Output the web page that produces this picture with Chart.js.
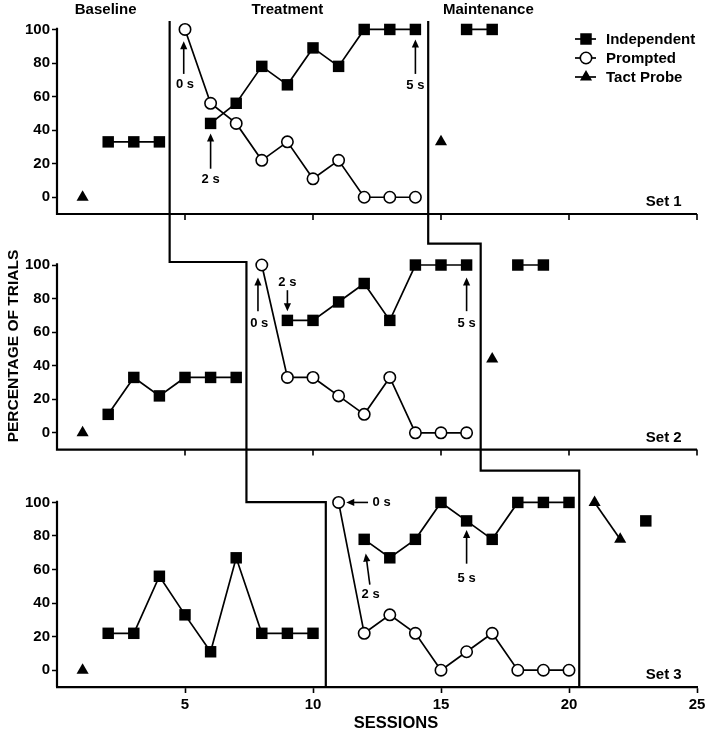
<!DOCTYPE html>
<html>
<head>
<meta charset="utf-8">
<script src="https://cdn.jsdelivr.net/npm/chart.js@4.4.1/dist/chart.umd.min.js"></script>
<style>
  html, body { margin: 0; padding: 0; background: #fff; }
  #wrap { position: relative; width: 709px; height: 732px; }
</style>
</head>
<body>
<div id="wrap"><canvas id="chart"></canvas></div>
<script>
const sessions = [1, 2, 3, 4, 5, 6, 7, 8, 9, 10, 11, 12, 13, 14, 15, 16, 17, 18, 19, 20, 21, 22, 23]

// Set 1
const set1Independent = [null, 33, 33, 33, null, 44, 56, 78, 67, 89, 78, 100, 100, 100, null, 100, 100, null, null, null, null, null, null]
const set1Prompted = [null, null, null, null, 100, 56, 44, 22, 33, 11, 22, 0, 0, 0, null, null, null, null, null, null, null, null, null]
const set1Tact = [0, null, null, null, null, null, null, null, null, null, null, null, null, null, 33, null, null, null, null, null, null, null, null]

// Set 2
const set2Independent = [null, 11, 33, 22, 33, 33, 33, null, 67, 67, 78, 89, 67, 100, 100, 100, null, 100, 100, null, null, null, null]
const set2Prompted = [null, null, null, null, null, null, null, 100, 33, 33, 22, 11, 33, 0, 0, 0, null, null, null, null, null, null, null]
const set2Tact = [0, null, null, null, null, null, null, null, null, null, null, null, null, null, null, null, 44, null, null, null, null, null, null]

// Set 3
const set3Independent = [null, 22, 22, 56, 33, 11, 67, 22, 22, 22, null, 78, 67, 78, 100, 89, 78, 100, 100, 100, null, null, 89]
const set3Prompted = [null, null, null, null, null, null, null, null, null, null, 100, 22, 33, 22, 0, 11, 22, 0, 0, 0, null, null, null]
const set3Tact = [0, null, null, null, null, null, null, null, null, null, null, null, null, null, null, null, null, null, null, null, 100, 78, null]

const yTicks = [0, 20, 40, 60, 80, 100]
const xTicks = [5, 10, 15, 20, 25]
const phaseNames = ["Baseline", "Treatment", "Maintenance"]
const setNames = ["Set 1", "Set 2", "Set 3"]

// phase change lines (session position in Set 1, 2, 3) and step heights
const baselineEnd = [4.4, 7.4, 10.5]
const treatmentEnd = [14.5, 16.55, 20.4]
const baselineSteps = [101.8, 100.2]
const treatmentSteps = [112.7, 119]

// prompt delay notes: [panel, label, tail, head, text position] in session / %
const delayNotes = [
  [0, "0 s", [4.95, 73.5], [4.95, 93], [5, 67]],
  [0, "2 s", [6, 17], [6, 38], [6, 10.5]],
  [0, "5 s", [14, 73.5], [14, 94], [14, 66.5]],
  [1, "0 s", [7.85, 72.5], [7.85, 92.5], [7.9, 65]],
  [1, "2 s", [9, 85], [9, 72.5], [9, 89.5]],
  [1, "5 s", [16, 72.5], [16, 92.5], [16, 65.3]],
  [2, "0 s", [12.15, 100], [11.3, 100], [12.68, 100]],
  [2, "2 s", [12.22, 51], [12.06, 69.5], [12.25, 45]],
  [2, "5 s", [16, 63.5], [16, 83.5], [16, 54.6]],
]

const FONT = '"Liberation Sans", Arial, sans-serif'

const styles = {
  independent: { pointStyle: "rect", pointRadius: 8.1, pointHoverRadius: 8.1, pointBackgroundColor: "#000", pointBorderColor: "#000", pointBorderWidth: 0 },
  prompted: { pointStyle: "circle", pointRadius: 5.7, pointHoverRadius: 5.7, pointBackgroundColor: "#fff", pointBorderColor: "#000", pointBorderWidth: 1.6 },
  tact: { pointStyle: "triangle", pointRadius: 7, pointHoverRadius: 7, pointBackgroundColor: "#000", pointBorderColor: "#000", pointBorderWidth: 0 },
}

const series = (label, values, axis, kind) => ({
  label: label,
  data: values.map((v, i) => ({ x: sessions[i], y: v })),
  yAxisID: axis,
  borderColor: "#000",
  borderWidth: 1.7,
  showLine: true,
  spanGaps: false,
  clip: false,
  tension: 0,
  ...styles[kind],
})

const yAxis = (min, max) => ({
  type: "linear",
  position: "left",
  stack: "sets",
  stackWeight: max - min,
  min: min,
  max: max,
  border: { display: false },
  grid: { drawOnChartArea: false, tickLength: 5, tickWidth: 1.5, tickColor: "#000" },
  ticks: { color: "#000", padding: 2, font: { family: FONT, size: 15, weight: "bold" } },
  afterBuildTicks: (s) => { s.ticks = yTicks.map((v) => ({ value: v })) },
  afterFit: (s) => { s.width = 57 },
})

const drawMarker = (ctx, kind, px, py) => {
  ctx.beginPath()
  if (kind === "independent") {
    ctx.rect(px - 5.75, py - 5.75, 11.5, 11.5)
    ctx.fill()
  } else if (kind === "prompted") {
    ctx.lineWidth = 1.6
    ctx.arc(px, py, 5.7, 0, Math.PI * 2)
    ctx.fillStyle = "#fff"
    ctx.fill()
    ctx.stroke()
    ctx.fillStyle = "#000"
  } else {
    const r = 7
    ctx.moveTo(px, py - r)
    ctx.lineTo(px + r * 0.866, py + r * 0.5)
    ctx.lineTo(px - r * 0.866, py + r * 0.5)
    ctx.closePath()
    ctx.fill()
  }
}

const arrow = (ctx, x1, y1, x2, y2) => {
  const a = Math.atan2(y2 - y1, x2 - x1)
  const len = 8
  const half = 3.6
  ctx.beginPath()
  ctx.moveTo(x1, y1)
  ctx.lineTo(x2 - Math.cos(a) * len * 0.8, y2 - Math.sin(a) * len * 0.8)
  ctx.stroke()
  ctx.beginPath()
  ctx.moveTo(x2, y2)
  ctx.lineTo(x2 - Math.cos(a) * len + Math.sin(a) * half, y2 - Math.sin(a) * len - Math.cos(a) * half)
  ctx.lineTo(x2 - Math.cos(a) * len - Math.sin(a) * half, y2 - Math.sin(a) * len + Math.cos(a) * half)
  ctx.closePath()
  ctx.fill()
}

const overlay = {
  id: "overlay",
  afterDraw(chart) {
    const { ctx, chartArea, scales } = chart
    const x = scales.x
    const panels = [scales.y1, scales.y2, scales.y3]
    ctx.save()
    ctx.strokeStyle = "#000"
    ctx.fillStyle = "#000"

    // axis lines of each set
    panels.forEach((y, i) => {
      const bottom = y.getPixelForValue(y.min)
      ctx.lineWidth = 2.2
      ctx.beginPath()
      ctx.moveTo(chartArea.left, y.getPixelForValue(101))
      ctx.lineTo(chartArea.left, bottom)
      if (i < 2) ctx.lineTo(chartArea.right, bottom)
      ctx.stroke()
      if (i < 2) {
        ctx.lineWidth = 1.6
        ctx.beginPath()
        xTicks.forEach((t) => {
          const px = x.getPixelForValue(t)
          ctx.moveTo(px, bottom)
          ctx.lineTo(px, bottom + 6)
        })
        ctx.stroke()
      }
    })

    // phase change lines
    const phaseLine = (xs, steps) => {
      const pts = [
        [xs[0], panels[0].getPixelForValue(105)],
        [xs[0], panels[1].getPixelForValue(steps[0])],
        [xs[1], panels[1].getPixelForValue(steps[0])],
        [xs[1], panels[2].getPixelForValue(steps[1])],
        [xs[2], panels[2].getPixelForValue(steps[1])],
        [xs[2], panels[2].getPixelForValue(panels[2].min)],
      ]
      ctx.lineWidth = 2.2
      ctx.beginPath()
      pts.forEach(([s, py], i) => {
        const px = x.getPixelForValue(s)
        if (i === 0) ctx.moveTo(px, py)
        else ctx.lineTo(px, py)
      })
      ctx.stroke()
    }
    phaseLine(baselineEnd, baselineSteps)
    phaseLine(treatmentEnd, treatmentSteps)

    // phase names
    ctx.font = "bold 15px " + FONT
    ctx.textAlign = "center"
    ctx.textBaseline = "middle"
    const phaseAt = [1.9, 9, 16.85]
    phaseNames.forEach((name, i) => {
      ctx.fillText(name, x.getPixelForValue(phaseAt[i]), chartArea.top - 1)
    })

    // set names
    ctx.textAlign = "right"
    setNames.forEach((name, i) => {
      ctx.fillText(name, x.getPixelForValue(24.4), panels[i].getPixelForValue(-3))
    })

    // prompt delay notes
    ctx.lineWidth = 1.6
    ctx.font = "bold 13px " + FONT
    ctx.textAlign = "center"
    delayNotes.forEach(([p, label, tail, head, at]) => {
      const y = panels[p]
      arrow(ctx, x.getPixelForValue(tail[0]), y.getPixelForValue(tail[1]), x.getPixelForValue(head[0]), y.getPixelForValue(head[1]))
      ctx.fillText(label, x.getPixelForValue(at[0]), y.getPixelForValue(at[1]))
    })

    // legend
    const legendItems = [["Independent", "independent"], ["Prompted", "prompted"], ["Tact Probe", "tact"]]
    ctx.font = "bold 15px " + FONT
    ctx.textAlign = "left"
    legendItems.forEach(([name, kind], i) => {
      const ly = chartArea.top + 28 + i * 19
      const lx = chartArea.right - 111
      ctx.lineWidth = 1.7
      ctx.beginPath()
      ctx.moveTo(lx - 11, ly)
      ctx.lineTo(lx + 10, ly)
      ctx.stroke()
      drawMarker(ctx, kind, lx, ly)
      ctx.fillText(name, lx + 20, ly + 1)
    })

    // axis titles
    ctx.font = "bold 16.5px " + FONT
    ctx.textAlign = "center"
    ctx.fillText("SESSIONS", (chartArea.left + chartArea.right) / 2 + 19, chart.height - 9)
    ctx.save()
    ctx.translate(14, (chartArea.top + chartArea.bottom) / 2 - 3)
    ctx.rotate(-Math.PI / 2)
    ctx.font = "bold 15.5px " + FONT
    ctx.fillText("PERCENTAGE OF TRIALS", 0, 0)
    ctx.restore()

    ctx.restore()
  },
}

new Chart(document.getElementById("chart"), {
  type: "line",
  data: {
    datasets: [
      series("Independent", set1Independent, "y1", "independent"),
      series("Prompted", set1Prompted, "y1", "prompted"),
      series("Tact Probe", set1Tact, "y1", "tact"),
      series("Independent", set2Independent, "y2", "independent"),
      series("Prompted", set2Prompted, "y2", "prompted"),
      series("Tact Probe", set2Tact, "y2", "tact"),
      series("Independent", set3Independent, "y3", "independent"),
      series("Prompted", set3Prompted, "y3", "prompted"),
      series("Tact Probe", set3Tact, "y3", "tact"),
    ],
  },
  options: {
    responsive: true,
    maintainAspectRatio: false,
    animation: false,
    layout: { padding: { top: 10, right: 12, left: 0, bottom: 0 } },
    plugins: { legend: { display: false }, tooltip: { enabled: false } },
    scales: {
      x: {
        type: "linear",
        position: "bottom",
        min: 0,
        max: 25,
        border: { color: "#000", width: 2.2 },
        grid: { drawOnChartArea: false, tickLength: 6, tickWidth: 1.6, tickColor: "#000" },
        ticks: { color: "#000", padding: 3, maxRotation: 0, font: { family: FONT, size: 15, weight: "bold" } },
        afterBuildTicks: (s) => { s.ticks = xTicks.map((v) => ({ value: v })) },
        afterFit: (s) => { s.height = 45 },
      },
      y3: yAxis(-10, 131.5),
      y2: yAxis(-10, 130.4),
      y1: yAxis(-10, 111),
    },
  },
  plugins: [overlay],
})
</script>
</body>
</html>
